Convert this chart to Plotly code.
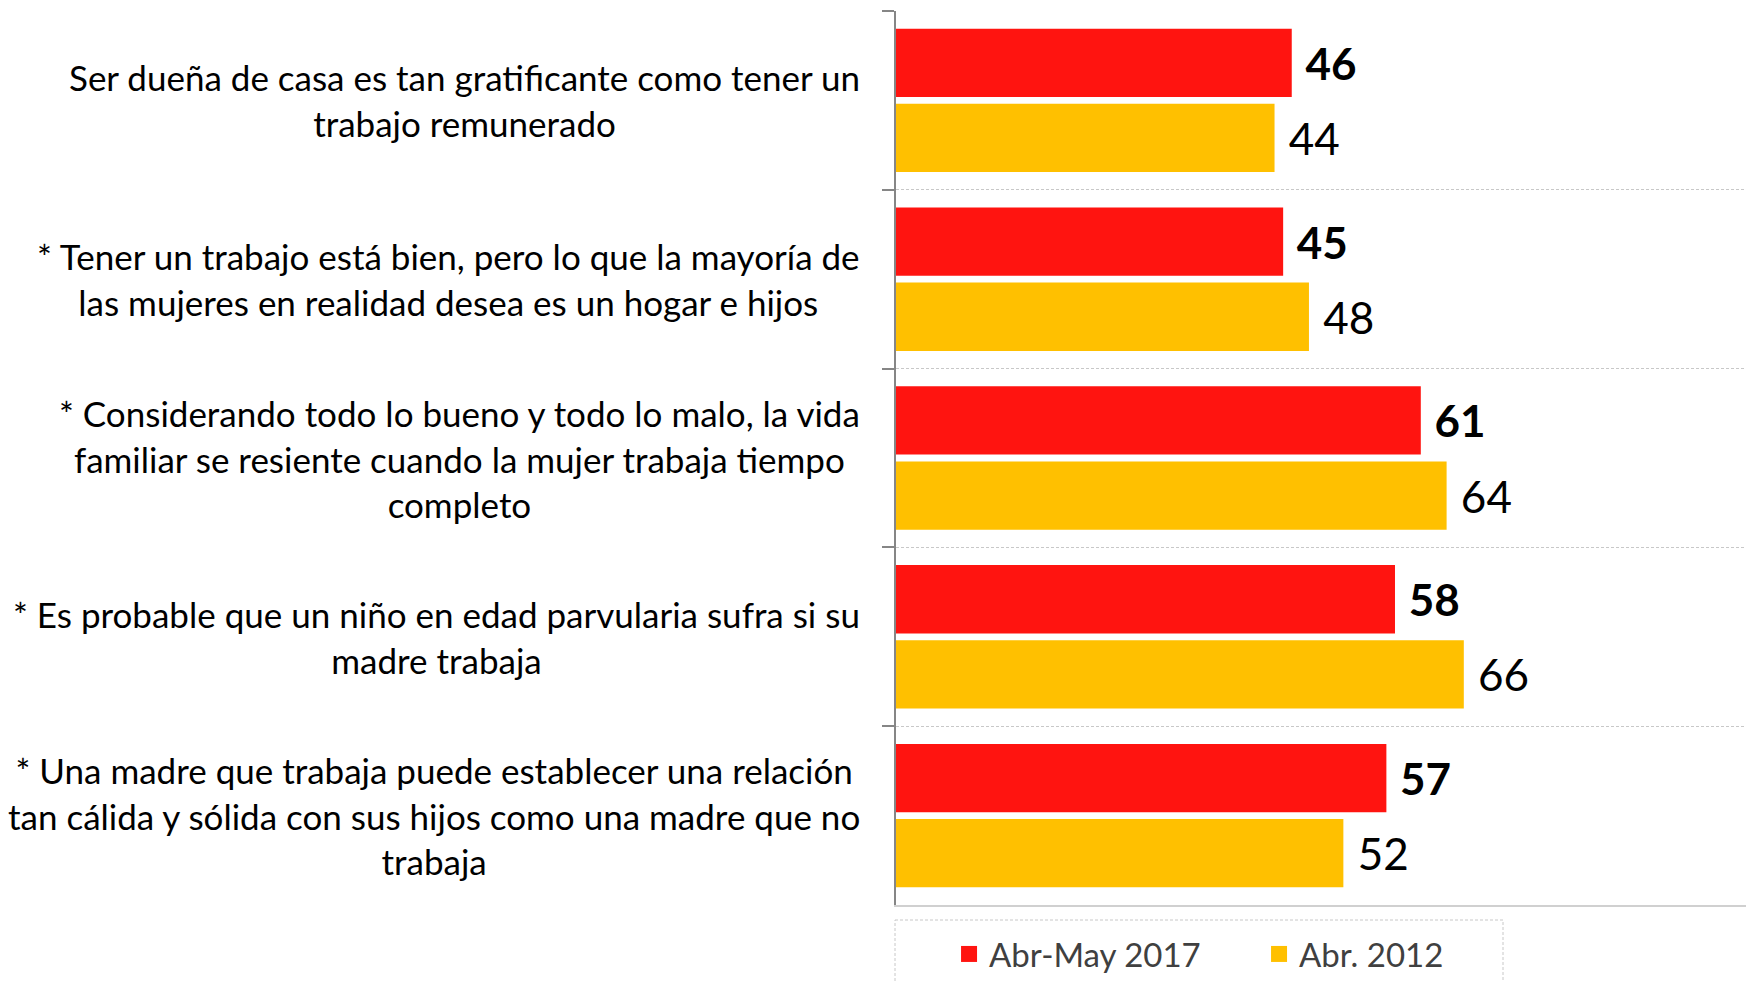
import plotly.graph_objects as go

categories = [
    "Ser dueña de casa es tan gratificante como tener un<br>trabajo remunerado",
    "* Tener un trabajo está bien, pero lo que la mayoría de<br>las mujeres en realidad desea es un hogar e hijos",
    "* Considerando todo lo bueno y todo lo malo, la vida<br>familiar se resiente cuando la mujer trabaja tiempo<br>completo",
    "* Es probable que un niño en edad parvularia sufra si su<br>madre trabaja",
    "* Una madre que trabaja puede establecer una relación<br>tan cálida y sólida con sus hijos como una madre que no<br>trabaja",
]
cat_ids = ["c1", "c2", "c3", "c4", "c5"]
series_names = ["Abr-May 2017", "Abr. 2012"]
values_2017 = [46, 45, 61, 58, 57]
values_2012 = [44, 48, 64, 66, 52]

RED = "#FF1410"
YELLOW = "#FFC000"
FONT = "Lato, 'Open Sans', sans-serif"

W, H = 1746, 981
ML, MR, MT, MB = 896, 0, 11, 981 - 905
plot_w = W - ML - MR
plot_h = H - MT - MB


def px_to_paper_y(py):
    return (905 - py) / plot_h


def px_to_paper_x(px):
    return (px - 896) / plot_w


fig = go.Figure()
fig.add_trace(go.Bar(
    y=cat_ids, x=values_2017, orientation="h", name=series_names[0],
    marker=dict(color=RED, line=dict(width=0)),
    text=values_2017, texttemplate="\u00a0%{x}", textposition="outside",
    textfont=dict(family=FONT, size=44, color="#000000", weight="bold"),
    constraintext="none", cliponaxis=False, showlegend=False, hoverinfo="skip",
))
fig.add_trace(go.Bar(
    y=cat_ids, x=values_2012, orientation="h", name=series_names[1],
    marker=dict(color=YELLOW, line=dict(width=0)),
    text=values_2012, texttemplate="\u00a0%{x}", textposition="outside",
    textfont=dict(family=FONT, size=44, color="#000000"),
    constraintext="none", cliponaxis=False, showlegend=False, hoverinfo="skip",
))
# legend proxies
for nm, col in zip(series_names, [RED, YELLOW]):
    fig.add_trace(go.Scatter(
        x=[None], y=[None], mode="markers", name=nm,
        marker=dict(symbol="square", size=21, color=col), showlegend=True,
    ))

# category labels as centered multi-line annotations
for cid, lab in zip(cat_ids, categories):
    fig.add_annotation(
        x=0, xref="paper", y=cid, yref="y", text=lab, showarrow=False,
        xanchor="right", yanchor="middle", align="center", xshift=-34,
        font=dict(family=FONT, size=35, color="#000000"),
    )

# dashed legend frame
fig.add_shape(
    type="rect", xref="paper", yref="paper",
    x0=px_to_paper_x(895), x1=px_to_paper_x(1503),
    y0=px_to_paper_y(920), y1=px_to_paper_y(1010),
    line=dict(color="#C8C8C8", width=1, dash="3px,2px"),
    fillcolor="rgba(0,0,0,0)", layer="above",
)

fig.update_layout(
    width=W, height=H,
    margin=dict(l=ML, r=MR, t=MT, b=MB, pad=0, autoexpand=False),
    paper_bgcolor="white", plot_bgcolor="white",
    barmode="group", bargap=0.16, bargroupgap=0.09,
    font=dict(family=FONT),
    showlegend=True,
    legend=dict(
        orientation="h", x=0.0624, y=px_to_paper_y(926),
        xanchor="left", yanchor="top",
        font=dict(family=FONT, size=33, color="#404040"),
        itemsizing="trace", entrywidth=265, entrywidthmode="pixels",
        bgcolor="rgba(0,0,0,0)", borderwidth=0,
    ),
    xaxis=dict(
        range=[0, 98.8], showticklabels=False, showgrid=False, zeroline=False,
        showline=True, linecolor="#D0D0D0", linewidth=2, ticks="",
        fixedrange=True,
    ),
    yaxis=dict(
        type="category", categoryorder="array", categoryarray=cat_ids,
        autorange="reversed", tickson="boundaries",
        showticklabels=False, ticks="outside", ticklen=12, tickwidth=2,
        tickcolor="#868686", showline=True, linecolor="#868686", linewidth=2,
        showgrid=True, gridcolor="#C8C8C8", gridwidth=1, griddash="3px,2px",
        zeroline=False, fixedrange=True,
    ),
)

fig.write_html(
    "out.html",
    config={"displayModeBar": False},
    post_script="document.body.style.margin='0';document.body.style.overflow='hidden';",
)
